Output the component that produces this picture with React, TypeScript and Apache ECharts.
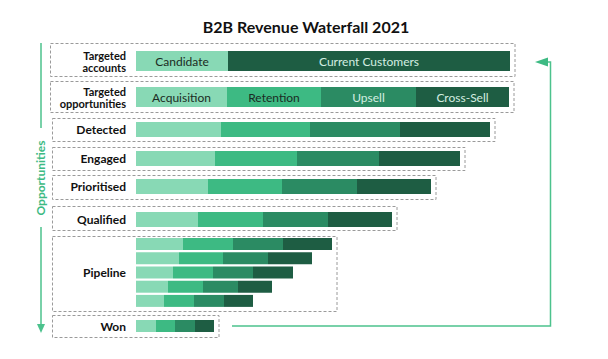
import React, { useEffect, useRef } from "react";
import * as echarts from "echarts";

const TITLE = "B2B Revenue Waterfall 2021";
const SIDE_LABEL = "Opportunities";
const STAGE_LABELS = [
  "Targeted\naccounts",
  "Targeted\nopportunities",
  "Detected",
  "Engaged",
  "Prioritised",
  "Qualified",
  "Pipeline",
  "Won",
];
const ACCOUNT_SEGMENTS = ["Candidate", "Current Customers"];
const ACCOUNT_VALUES = [92, 282];
const OPP_SEGMENTS = ["Acquisition", "Retention", "Upsell", "Cross-Sell"];
const OPP_VALUES = [91, 94, 95, 93];
const DETECTED = [85, 89, 90, 90];
const ENGAGED = [79, 82, 82, 81];
const PRIORITISED = [72, 74, 75, 74];
const QUALIFIED = [62, 65, 65, 64];
const PIPELINE = [
  [47, 50, 50, 49],
  [43, 44, 45, 44],
  [37, 40, 40, 40],
  [32, 35, 35, 34],
  [28, 30, 30, 29],
];
const WON = [20, 19, 20, 19];

const COLORS = ["#88d9b5", "#3dba83", "#2b8b63", "#1e5d43"];
const GREEN = "#4cc28d";
const FONT = "Lato";

export default function App() {
  const ref = useRef<HTMLDivElement>(null);
  useEffect(() => {
    document.body.style.margin = "0";
    const chart = echarts.init(ref.current!, null, { renderer: "svg" });

    const groups = [
      { rows: [ACCOUNT_VALUES], segs: ACCOUNT_SEGMENTS, colors: [COLORS[0], COLORS[3]], labelColors: ["#1b2b23", "#d4eee1"], top: 51, h: 20, bw: 20, box: [43, 76], labels: true, fs: 11 },
      { rows: [OPP_VALUES], segs: OPP_SEGMENTS, colors: COLORS, labelColors: ["#1b2b23", "#1b2b23", "#d4eee1", "#d4eee1"], top: 87, h: 20, bw: 20, box: [81, 112], labels: true, fs: 11 },
      { rows: [DETECTED], top: 122, h: 15, bw: 15, box: [118, 141], fs: 12 },
      { rows: [ENGAGED], top: 151, h: 15, bw: 15, box: [147, 170], fs: 12 },
      { rows: [PRIORITISED], top: 179, h: 15, bw: 15, box: [175, 199], fs: 12 },
      { rows: [QUALIFIED], top: 212, h: 15, bw: 15, box: [206, 230], fs: 12 },
      { rows: PIPELINE, top: 237, h: 71, bw: 12, box: [236, 311], fs: 12 },
      { rows: [WON], top: 320, h: 12, bw: 12, box: [315, 337], fs: 12 },
    ];

    const grid: any[] = [];
    const xAxis: any[] = [];
    const yAxis: any[] = [];
    const series: any[] = [];
    groups.forEach((g: any, gi) => {
      grid.push({ left: 136, width: 400, top: g.top, height: g.h });
      xAxis.push({ type: "value", gridIndex: gi, min: 0, max: 400, show: false });
      const cats = g.rows.map((_: any, ri: number) => STAGE_LABELS[gi] + (g.rows.length > 1 ? " " + (ri + 1) : ""));
      const mid = Math.floor(g.rows.length / 2);
      yAxis.push({
        type: "category",
        gridIndex: gi,
        inverse: true,
        data: cats,
        axisLine: { show: false },
        axisTick: { show: false },
        splitLine: { show: false },
        axisLabel: {
          margin: 10,
          fontFamily: FONT,
          fontWeight: "bold",
          fontSize: g.fs,
          lineHeight: 12,
          color: "#111",
          interval: 0,
          formatter: (_v: string, idx: number) => (idx === mid ? STAGE_LABELS[gi] : ""),
        },
      });
      const nSeg = g.rows[0].length;
      for (let s = 0; s < nSeg; s++) {
        series.push({
          type: "bar",
          name: g.segs ? g.segs[s] : STAGE_LABELS[gi] + " " + (s + 1),
          xAxisIndex: gi,
          yAxisIndex: gi,
          stack: "g" + gi,
          barWidth: g.bw,
          data: g.rows.map((r: number[]) => r[s]),
          itemStyle: { color: g.colors ? g.colors[s] : COLORS[s] },
          label: g.labels
            ? {
                show: true,
                position: "inside",
                formatter: g.segs[s],
                color: g.labelColors[s],
                fontFamily: FONT,
                fontSize: 12,
              }
            : { show: false },
          emphasis: { disabled: true },
        });
      }
    });

    chart.setOption({
      animation: false,
      title: {
        text: TITLE,
        left: 301,
        textAlign: "center",
        top: 13,
        textStyle: { fontFamily: FONT, fontWeight: "bold", fontSize: 16, color: "#111" },
      },
      grid,
      xAxis,
      yAxis,
      series,
    });

    const graphic: any[] = [];
    groups.forEach((g: any, gi) => {
      const maxTotal = Math.max(...g.rows.map((r: number[]) => r.reduce((a, b) => a + b, 0)));
      const right = (chart.convertToPixel({ xAxisIndex: gi } as any, maxTotal) as number) + 5;
      const left = gi < 2 ? 50.5 : 52.5;
      graphic.push({
        type: "rect",
        shape: { x: left, y: g.box[0] + 0.5, width: right - left, height: g.box[1] - g.box[0] },
        style: { fill: "none", stroke: "#9a9a9a", lineWidth: 1, lineDash: [3, 2] },
        z: -1,
      });
    });
    graphic.push(
      { type: "line", shape: { x1: 41, y1: 43, x2: 41, y2: 128 }, style: { stroke: GREEN, lineWidth: 1.5 } },
      { type: "line", shape: { x1: 41, y1: 227, x2: 41, y2: 326 }, style: { stroke: GREEN, lineWidth: 1.5 } },
      { type: "polygon", shape: { points: [[37, 324], [45, 324], [41, 333]] }, style: { fill: GREEN } },
      {
        type: "text",
        x: 40,
        y: 178,
        rotation: Math.PI / 2,
        style: {
          text: SIDE_LABEL,
          fill: "#3dba83",
          fontFamily: FONT,
          fontWeight: "bold",
          fontSize: 12,
          align: "center",
          verticalAlign: "middle",
        },
      },
      {
        type: "polyline",
        shape: { points: [[232, 326], [550.5, 326], [550.5, 62], [546, 62]] },
        style: { stroke: GREEN, lineWidth: 1.5, fill: "none" },
      },
      { type: "polygon", shape: { points: [[548, 57.5], [548, 66.5], [535, 62]] }, style: { fill: "#3dba83" } }
    );
    chart.setOption({ graphic });

    return () => chart.dispose();
  }, []);
  return <div ref={ref} style={{ width: 608, height: 359 }} />;
}
